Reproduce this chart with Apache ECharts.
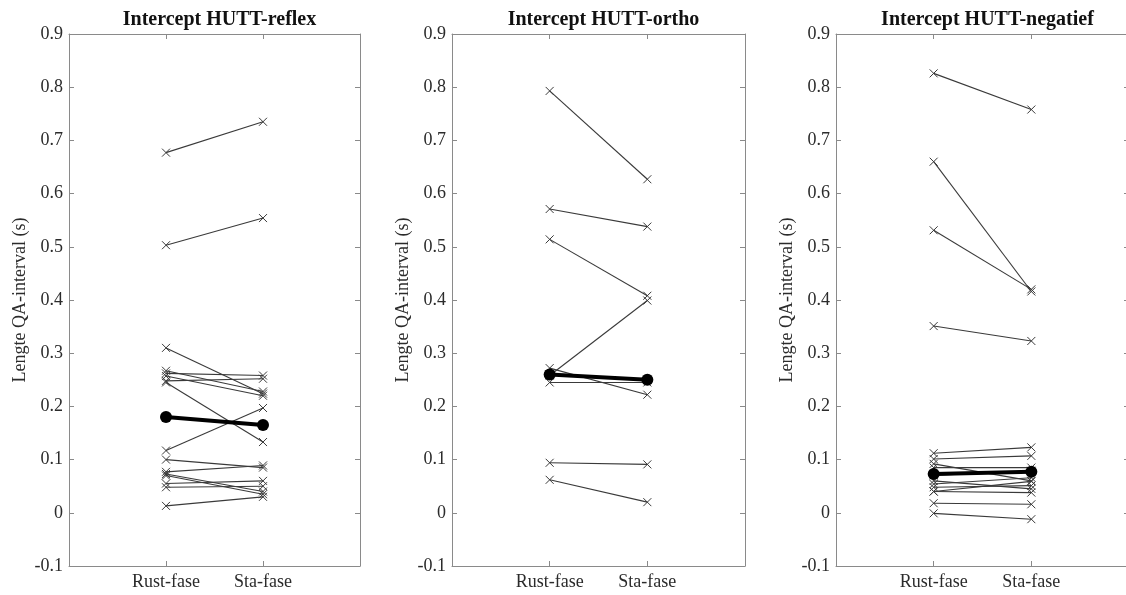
<!DOCTYPE html>
<html>
<head>
<meta charset="utf-8">
<script src="https://cdn.jsdelivr.net/npm/echarts@6/dist/echarts.min.js"></script>
<style>
  html, body { margin: 0; padding: 0; background: #fff; overflow: hidden; width: 1126px; height: 595px; }
  /* canvas is a little wider than the page so the last panel's box runs off the right edge */
  #chart { width: 1140px; height: 595px; }
</style>
</head>
<body>
<div id="chart"></div>
<script>
// Phase categories on the x axis (placed at x = 1 and x = 2)
const phases = ['Rust-fase', 'Sta-fase'];
const panelTitles = ['Intercept HUTT-reflex', 'Intercept HUTT-ortho', 'Intercept HUTT-negatief'];
const yAxisName = 'Lengte QA-interval (s)';

// HUTT-reflex: per-subject QA-interval (s), rest vs standing
const reflexRust = [0.677, 0.503, 0.310, 0.267, 0.262, 0.257, 0.248, 0.245, 0.117, 0.100, 0.077, 0.073, 0.070, 0.055, 0.048, 0.013];
const reflexSta  = [0.735, 0.554, 0.224, 0.228, 0.258, 0.220, 0.252, 0.133, 0.197, 0.085, 0.089, 0.040, 0.035, 0.060, 0.050, 0.030];
const reflexMedian = [0.180, 0.165];

// HUTT-ortho
const orthoRust = [0.793, 0.571, 0.514, 0.258, 0.272, 0.245, 0.260, 0.094, 0.062];
const orthoSta  = [0.627, 0.538, 0.408, 0.399, 0.222, 0.245, 0.250, 0.091, 0.020];
const orthoMedian = [0.260, 0.250];

// HUTT-negatief
const negRust = [0.826, 0.660, 0.531, 0.351, 0.112, 0.101, 0.092, 0.085, 0.070, 0.060, 0.054, 0.048, 0.040, 0.040, 0.018, -0.001];
const negSta  = [0.758, 0.416, 0.420, 0.323, 0.123, 0.107, 0.060, 0.085, 0.079, 0.045, 0.066, 0.051, 0.038, 0.059, 0.016, -0.012];
const negMedian = [0.073, 0.077];

const panels = [
  { rust: reflexRust, sta: reflexSta, median: reflexMedian },
  { rust: orthoRust, sta: orthoSta, median: orthoMedian },
  { rust: negRust, sta: negSta, median: negMedian }
];

const FONT = '"Liberation Serif", "Times New Roman", serif';
const FRAME = '#8a8a8a';
const TEXT = '#2b2b2b';
const gridLeft = [69, 452, 836];
const gridWidth = [291, 293, 293];

const crossSymbol = 'path://M0,0L10,10M10,0L0,10';

const chart = echarts.init(document.getElementById('chart'), null, { renderer: 'canvas' });

const grids = [], xAxes = [], yAxes = [], series = [], titles = [];

panels.forEach((p, k) => {
  grids.push({ left: gridLeft[k], width: gridWidth[k], top: 34, height: 532, containLabel: false });
  const centerX = gridLeft[k] + gridWidth[k] / 2;

  titles.push({
    text: panelTitles[k],
    left: centerX,
    top: 5,
    textAlign: 'center',
    textStyle: { fontFamily: FONT, fontSize: 20, fontWeight: 'bold', color: '#111' }
  });

  const xBase = {
    type: 'value', gridIndex: k, min: 0, max: 3, interval: 1,
    axisLine: { show: true, onZero: false, lineStyle: { color: FRAME, width: 1 } },
    axisTick: { show: true, inside: true, length: 5, lineStyle: { color: FRAME } },
    splitLine: { show: false }
  };
  xAxes.push(Object.assign({}, xBase, {
    position: 'bottom',
    axisLabel: {
      show: true, margin: 7, fontFamily: FONT, fontSize: 18, color: TEXT,
      formatter: v => (v === 1 || v === 2) ? phases[v - 1] : ''
    }
  }));
  xAxes.push(Object.assign({}, xBase, { position: 'top', axisLabel: { show: false } }));

  const yBase = {
    type: 'value', gridIndex: k, min: -0.1, max: 0.9, interval: 0.1,
    axisLine: { show: true, onZero: false, lineStyle: { color: FRAME, width: 1 } },
    axisTick: { show: true, inside: true, length: 5, lineStyle: { color: FRAME } },
    splitLine: { show: false }
  };
  yAxes.push(Object.assign({}, yBase, {
    position: 'left',
    name: yAxisName,
    nameLocation: 'middle',
    nameGap: 40,
    nameTextStyle: { fontFamily: FONT, fontSize: 18, color: TEXT },
    axisLabel: {
      show: true, margin: 6, fontFamily: FONT, fontSize: 18, color: TEXT,
      formatter: v => Math.abs(v) < 1e-9 ? '0' : v.toFixed(1)
    }
  }));
  yAxes.push(Object.assign({}, yBase, { position: 'right', axisLabel: { show: false } }));

  // individual subjects
  p.rust.forEach((r, i) => {
    series.push({
      type: 'line', xAxisIndex: 2 * k, yAxisIndex: 2 * k,
      data: [[1, r], [2, p.sta[i]]],
      symbol: crossSymbol, symbolSize: 8,
      lineStyle: { color: '#3a3a3a', width: 1.1 },
      itemStyle: { color: 'rgba(0,0,0,0)', borderColor: '#3a3a3a', borderWidth: 1 },
      emphasis: { disabled: true }, silent: true, animation: false, z: 2
    });
  });

  // group median
  series.push({
    type: 'line', xAxisIndex: 2 * k, yAxisIndex: 2 * k,
    data: [[1, p.median[0]], [2, p.median[1]]],
    symbol: 'circle', symbolSize: 12,
    lineStyle: { color: '#000', width: 4 },
    itemStyle: { color: '#000' },
    emphasis: { disabled: true }, silent: true, animation: false, z: 5
  });
});

chart.setOption({
  backgroundColor: '#fff',
  animation: false,
  title: titles,
  grid: grids,
  xAxis: xAxes,
  yAxis: yAxes,
  series: series
});
</script>
</body>
</html>
